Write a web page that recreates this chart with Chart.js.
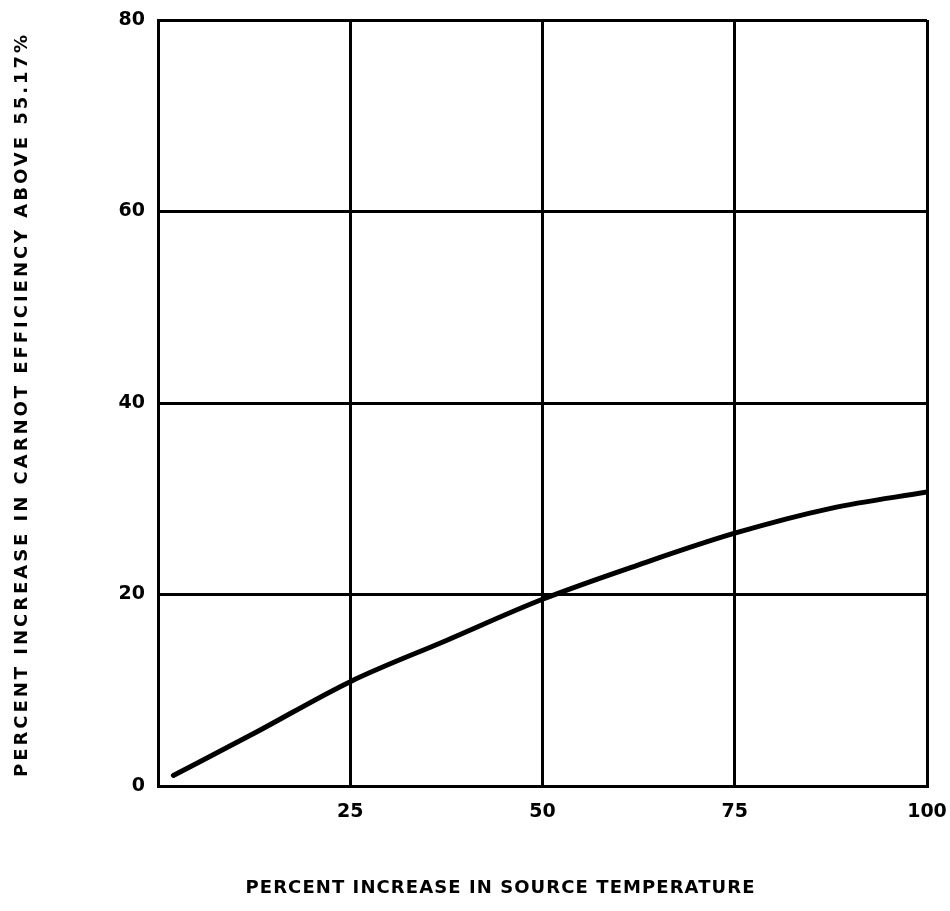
<!DOCTYPE html>
<html>
<head>
<meta charset="utf-8">
<script src="https://cdn.jsdelivr.net/npm/chart.js@4"></script>
<style>
  html, body { margin: 0; padding: 0; background: #fff; }
  #wrap { width: 950px; height: 911px; }
</style>
</head>
<body>
<div id="wrap"><canvas id="c" width="950" height="911"></canvas></div>
<script>
// Source temperature increase (%) and resulting Carnot efficiency increase (%)
const sourceTempIncrease = [2, 12.5, 25, 37.5, 50, 62.5, 75, 87.5, 100];
const efficiencyIncrease = [1.1, 5.5, 10.9, 15.2, 19.5, 23.1, 26.4, 29.0, 30.7];

const xTicks = [0, 25, 50, 75, 100];
const yTicks = [0, 20, 40, 60, 80];

const xTitle = 'PERCENT INCREASE IN SOURCE TEMPERATURE';
const yTitle = 'PERCENT INCREASE IN CARNOT EFFICIENCY ABOVE 55.17%';

const points = sourceTempIncrease.map((x, i) => ({ x, y: efficiencyIncrease[i] }));

const tickFont = { family: 'DejaVu Sans, sans-serif', size: 19, weight: 'bold' };

// Draws a spaced-out, bold axis caption spread over a given length
function spacedText(ctx, text, cx, cy, size, length, rotate) {
  ctx.save();
  ctx.font = 'bold ' + size + 'px "DejaVu Sans", sans-serif';
  ctx.fillStyle = '#000';
  ctx.textAlign = 'left';
  ctx.textBaseline = 'middle';
  const natural = ctx.measureText(text).width;
  const gap = Math.max(0, (length - natural) / (text.length - 1));
  ctx.letterSpacing = gap + 'px';
  const w = ctx.measureText(text).width - gap;
  ctx.translate(cx, cy);
  if (rotate) ctx.rotate(-Math.PI / 2);
  ctx.fillText(text, -w / 2, 0);
  ctx.restore();
}

const axisCaptions = {
  id: 'axisCaptions',
  afterDraw(chart) {
    const ctx = chart.ctx;
    spacedText(ctx, xTitle, 500, 888, 18, 509, false);
    spacedText(ctx, yTitle, 22, 406, 18, 742, true);
  }
};

new Chart(document.getElementById('c'), {
  type: 'line',
  data: {
    datasets: [{
      data: points,
      borderColor: '#000',
      borderWidth: 5,
      borderCapStyle: 'round',
      pointRadius: 0,
      cubicInterpolationMode: 'monotone',
      fill: false
    }]
  },
  plugins: [axisCaptions],
  options: {
    responsive: false,
    animation: false,
    layout: { padding: { top: 20, right: 23, bottom: 0, left: 0 } },
    plugins: { legend: { display: false }, tooltip: { enabled: false } },
    scales: {
      x: {
        type: 'linear',
        min: 0, max: 100,
        afterBuildTicks: s => { s.ticks = xTicks.map(v => ({ value: v })); },
        afterFit: s => { s.height = 125; s.paddingLeft = 0; s.paddingRight = 0; },
        ticks: {
          color: '#000',
          font: tickFont,
          padding: 15,
          maxRotation: 0,
          callback: v => (v === 0 ? '' : String(v))
        },
        grid: { color: '#000', lineWidth: 3, drawTicks: false },
        border: { color: '#000', width: 3 }
      },
      y: {
        type: 'linear',
        min: 0, max: 80,
        afterBuildTicks: s => { s.ticks = yTicks.map(v => ({ value: v })); },
        afterFit: s => { s.width = 158; s.paddingTop = 0; s.paddingBottom = 0; },
        ticks: {
          color: '#000',
          font: tickFont,
          padding: 13
        },
        grid: { color: '#000', lineWidth: 3, drawTicks: false },
        border: { color: '#000', width: 3 }
      }
    }
  }
});
</script>
</body>
</html>
